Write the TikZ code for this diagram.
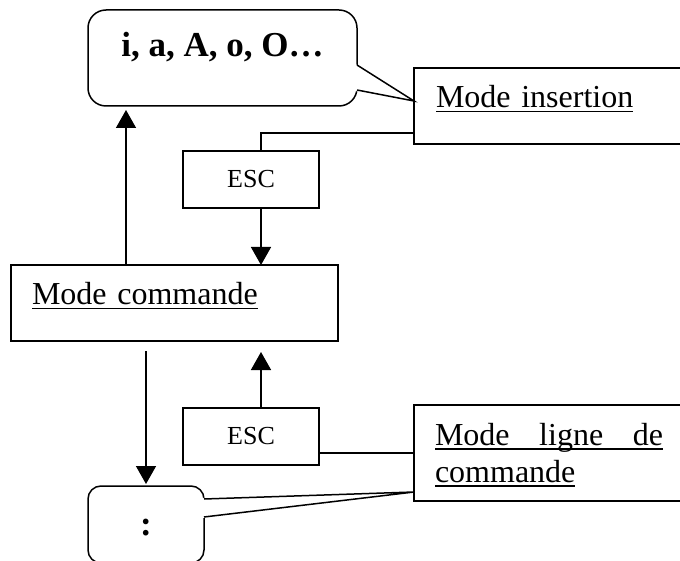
\documentclass[tikz,border=0pt]{standalone}
\usepackage{fontspec}
\setmainfont{Liberation Serif}
\usetikzlibrary{arrows.meta}
\newcommand\souligne[1]{\leavevmode\setbox0\hbox{#1}\rlap{\rule[-4.5pt]{\wd0}{1.6pt}}\box0}

\begin{document}
\begin{tikzpicture}[x=1pt,y=-1pt,line width=1.5pt,
  font=\fontsize{32}{37}\selectfont,
  mode/.style={draw,rectangle,anchor=north west,outer sep=0pt,inner ysep=0pt,align=left,text height=40pt},
  touche/.style={draw,rectangle,outer sep=0pt,inner sep=0pt,minimum height=57pt,font=\fontsize{26}{30}\selectfont},
  bulle/.style={draw,rectangle,rounded corners=#1,anchor=north west,outer sep=0pt,inner sep=0pt,font=\fontsize{35}{40}\selectfont\bfseries},
  fleche/.style={-{Triangle[width=20pt,length=18pt]}}]
\useasboundingbox (0,0) rectangle (680,561);
\node[bulle=18pt,minimum width=269pt,text height=47pt,text depth=49pt] (touches) at (88,10) {i, a, A, o, O…};
\node[mode,inner xsep=22pt,text width=240pt,text depth=36pt] (insertion) at (414,68) {\souligne{Mode insertion}};
\node[touche,minimum width=136pt] (esc1) at (251,179.5) {ESC};
\node[mode,inner xsep=21pt,text width=285pt,text depth=36pt] (commande) at (11,265) {\souligne{Mode commande}};
\node[touche,minimum width=136pt] (esc2) at (251,436.5) {ESC};
\node[mode,inner xsep=21pt,text width=228pt,text depth=56pt] (ligne) at (414,405) {\souligne{\hbox to 228pt{Mode\hfill ligne\hfill de}}\\\souligne{commande}};
\node[bulle=13pt,minimum width=116pt,text height=49pt,text depth=28pt] (deuxpoints) at (88,486) {:};
\fill[white] ([xshift=-1.8pt,yshift=-54pt]touches.north east) -- ([yshift=5pt]insertion.west) -- ([xshift=-1.8pt,yshift=-81pt]touches.north east) -- cycle;
\draw ([yshift=-55pt]touches.north east) -- ([yshift=5pt]insertion.west) -- ([yshift=-80pt]touches.north east);
\fill[white] ([xshift=-1.8pt,yshift=-12pt]deuxpoints.north east) -- ([yshift=9pt]ligne.south west) -- ([xshift=-1.8pt,yshift=-32pt]deuxpoints.north east) -- cycle;
\draw ([yshift=-13pt]deuxpoints.north east) -- ([yshift=9pt]ligne.south west) -- ([yshift=-31pt]deuxpoints.north east);
\draw ([yshift=11pt]insertion.south west) -| ([xshift=10pt]esc1.north);
\draw[fleche] ([xshift=10pt]esc1.south) -- ([xshift=10pt]esc1.south |- commande.north);
\draw[fleche] ([xshift=115pt]commande.north west) -- ([xshift=115pt,yshift=155pt]commande.north west);
\draw[fleche] ([yshift=135pt]deuxpoints.north) -- ([yshift=2pt]deuxpoints.north);
\draw[fleche] ([xshift=10pt]esc2.north) -- ([xshift=10pt,yshift=56pt]esc2.north);
\draw (esc2.east |- ligne.west) -- (ligne.west);
\end{tikzpicture}
\end{document}
